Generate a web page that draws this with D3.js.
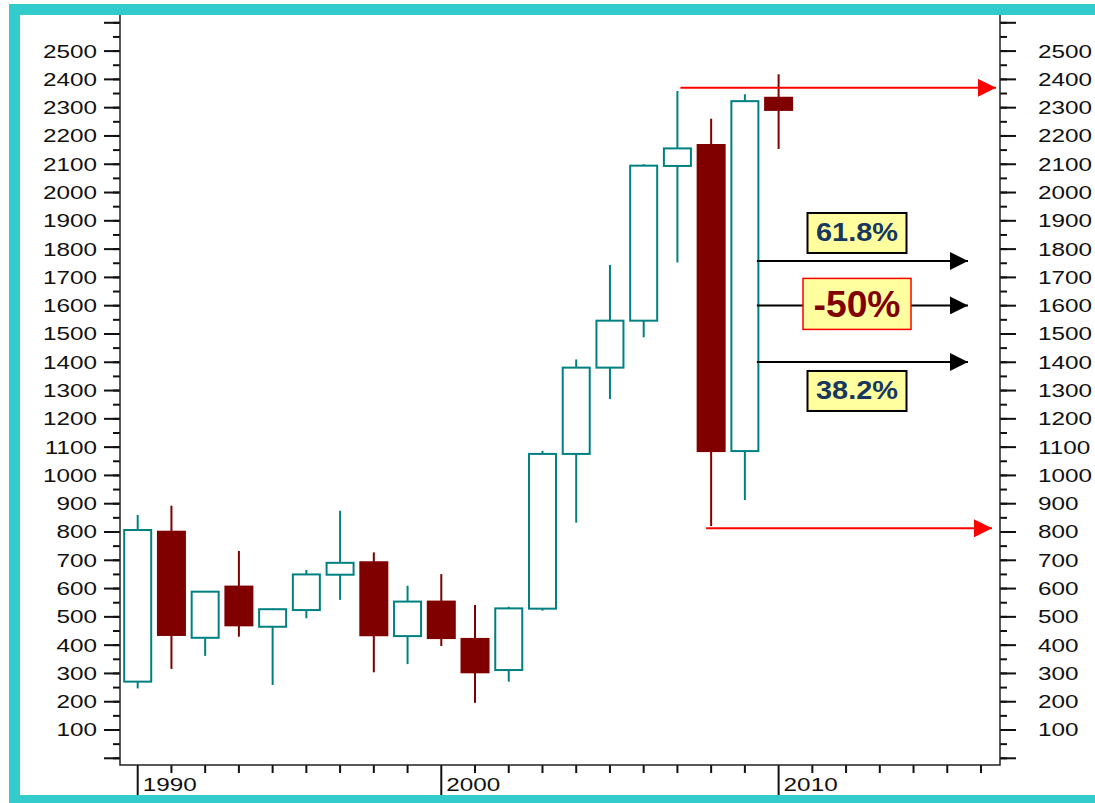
<!DOCTYPE html>
<html>
<head>
<meta charset="utf-8">
<script src="https://cdn.jsdelivr.net/npm/d3@7"></script>
<style>
  body { margin: 0; background: #fff; }
  svg { display: block; }
  text { font-family: "Liberation Sans", Arial, sans-serif; fill: #111; }
</style>
</head>
<body>
<div id="chart"></div>
<script>
// yearly candles
const years = d3.range(1991, 2011)
const opens  = [271, 801, 426, 607, 465, 524, 649, 693, 432, 554, 422, 312, 529, 1076, 1381, 1547, 2094, 2168, 1086, 2335]
const closes = [807, 436, 589, 470, 527, 650, 691, 435, 554, 425, 304, 530, 1076, 1381, 1547, 2095, 2156, 1086, 2323, 2292]
const highs  = [860, 893, 591, 733, 529, 666, 875, 728, 610, 651, 542, 536, 1087, 1410, 1744, 2100, 2359, 2261, 2347, 2418]
const lows   = [247, 316, 362, 430, 259, 495, 560, 304, 333, 397, 196, 271, 522, 833, 1270, 1488, 1753, 821, 913, 2154]

// axis ticks
const xTickYears = d3.range(1991, 2017)
const xMajorYears = [1991, 2000, 2010]
const xMajorLabels = ['1990', '2000', '2010']

// retracement levels
const fibLevels = [1758, 1601, 1401]
const fibLabels = ['61.8%', '-50%', '38.2%']
const rangeHigh = 2370
const rangeLow = 813

const W = 1095, H = 803
const teal = '#33cccc'
const upCol = '#008080'
const downCol = '#800000'

const svg = d3.select('#chart')
  .append('svg')
  .attr('width', W)
  .attr('height', H)

const x = d3.scaleLinear()
  .domain([1991, 2016])
  .range([137.7, 981])

const y = d3.scaleLinear()
  .domain([0, 2600])
  .range([758.3, 22.8])

const plotL = 120, plotR = 1000, plotB = 765, plotT = 15

// markers
const defs = svg.append('defs')
function marker(id, color) {
  defs.append('marker')
    .attr('id', id)
    .attr('viewBox', '0 0 10 10')
    .attr('refX', 10).attr('refY', 5)
    .attr('markerWidth', 9).attr('markerHeight', 9)
    .attr('orient', 'auto')
    .attr('markerUnits', 'strokeWidth')
    .append('path')
    .attr('d', 'M0,0L10,5L0,10Z')
    .attr('fill', color)
}
marker('arrBlack', '#000')
marker('arrRed', '#ff0000')

// y axes: minor + major ticks
const yMinor = d3.range(0, 2601, 50)
const yMajor = d3.range(0, 2601, 100)

const axisG = svg.append('g')

function yTicks(xPos, dir) {
  axisG.selectAll(null)
    .data(yMinor)
    .enter().append('line')
    .attr('x1', xPos).attr('x2', xPos + dir * 7)
    .attr('y1', d => y(d)).attr('y2', d => y(d))
    .attr('stroke', '#111').attr('stroke-width', 2)
  axisG.selectAll(null)
    .data(yMajor)
    .enter().append('line')
    .attr('x1', xPos).attr('x2', xPos + dir * 16)
    .attr('y1', d => y(d)).attr('y2', d => y(d))
    .attr('stroke', '#111').attr('stroke-width', 2)
}
yTicks(plotL, -1)
yTicks(plotR, 1)

const yLabels = yMajor.filter(d => d > 0 && d < 2600)
axisG.selectAll(null)
  .data(yLabels)
  .enter().append('text')
  .attr('transform', d => `translate(97,${y(d)}) scale(1.35,1)`)
  .attr('text-anchor', 'end')
  .attr('dy', '0.36em')
  .attr('font-size', 18)
  .text(d => d)
axisG.selectAll(null)
  .data(yLabels)
  .enter().append('text')
  .attr('transform', d => `translate(1038,${y(d)}) scale(1.35,1)`)
  .attr('text-anchor', 'start')
  .attr('dy', '0.36em')
  .attr('font-size', 18)
  .text(d => d)

// x axis ticks
axisG.selectAll(null)
  .data(xTickYears)
  .enter().append('line')
  .attr('x1', d => x(d)).attr('x2', d => x(d))
  .attr('y1', plotB)
  .attr('y2', d => xMajorYears.includes(d) ? 795 : plotB + 8)
  .attr('stroke', '#111').attr('stroke-width', 2)

axisG.selectAll(null)
  .data(xMajorYears)
  .enter().append('text')
  .attr('transform', d => `translate(${x(d) + 5},790.5) scale(1.35,1)`)
  .attr('font-size', 18)
  .text((d, i) => xMajorLabels[i])

// axis lines
axisG.append('path')
  .attr('d', `M${plotL},${plotT}V${plotB}H${plotR}V${plotT}`)
  .attr('fill', 'none')
  .attr('stroke', '#222')
  .attr('stroke-width', 1.5)

// candles
const bw = 27
const candles = years.map((yr, i) => ({
  year: yr, open: opens[i], close: closes[i], high: highs[i], low: lows[i]
}))

const cg = svg.append('g')
const c = cg.selectAll('g')
  .data(candles)
  .enter().append('g')

c.append('line')
  .attr('x1', d => x(d.year)).attr('x2', d => x(d.year))
  .attr('y1', d => y(d.high)).attr('y2', d => y(d.low))
  .attr('stroke', d => d.close >= d.open ? upCol : downCol)
  .attr('stroke-width', 2)

c.append('rect')
  .attr('x', d => x(d.year) - bw / 2)
  .attr('width', bw)
  .attr('y', d => y(Math.max(d.open, d.close)))
  .attr('height', d => Math.abs(y(d.open) - y(d.close)))
  .attr('fill', d => d.close >= d.open ? '#fff' : downCol)
  .attr('stroke', d => d.close >= d.open ? upCol : downCol)
  .attr('stroke-width', 2)

// range lines (red)
svg.append('line')
  .attr('x1', x(2007) + 3).attr('x2', 996)
  .attr('y1', y(rangeHigh)).attr('y2', y(rangeHigh))
  .attr('stroke', '#ff0000').attr('stroke-width', 2)
  .attr('marker-end', 'url(#arrRed)')
svg.append('line')
  .attr('x1', x(2008) - 5).attr('x2', 992)
  .attr('y1', y(rangeLow)).attr('y2', y(rangeLow))
  .attr('stroke', '#ff0000').attr('stroke-width', 2)
  .attr('marker-end', 'url(#arrRed)')

// retracement arrows and boxes
const fg = svg.append('g')
fibLevels.forEach((lv, i) => {
  const ly = y(lv)
  fg.append('line')
    .attr('x1', x(2009) + 12).attr('x2', 968)
    .attr('y1', ly).attr('y2', ly)
    .attr('stroke', '#000').attr('stroke-width', 2)
    .attr('marker-end', 'url(#arrBlack)')

  const mid = i === 1
  const bwid = mid ? 108 : 99
  const bh = mid ? 51 : 40
  const cx = 857
  let by
  if (i === 0) by = ly - 8 - bh
  else if (i === 1) by = ly - 27
  else by = ly + 9
  fg.append('rect')
    .attr('x', cx - bwid / 2).attr('y', by)
    .attr('width', bwid).attr('height', bh)
    .attr('fill', '#ffffa0')
    .attr('stroke', mid ? '#ff0000' : '#000')
    .attr('stroke-width', mid ? 1.5 : 2)
  fg.append('text')
    .attr('x', cx)
    .attr('y', by + (mid ? 38.5 : 28.5))
    .attr('text-anchor', 'middle')
    .attr('font-size', mid ? 37 : 26)
    .attr('font-weight', 'bold')
    .attr('textLength', mid ? 87 : 82)
    .attr('lengthAdjust', 'spacingAndGlyphs')
    .style('fill', mid ? downCol : '#17375e')
    .text(fibLabels[i])
})

// teal frame
svg.append('path')
  .attr('d', `M9,4H${W}V15H20V795H${W}V${H}H9Z`)
  .attr('fill', teal)
</script>
</body>
</html>
